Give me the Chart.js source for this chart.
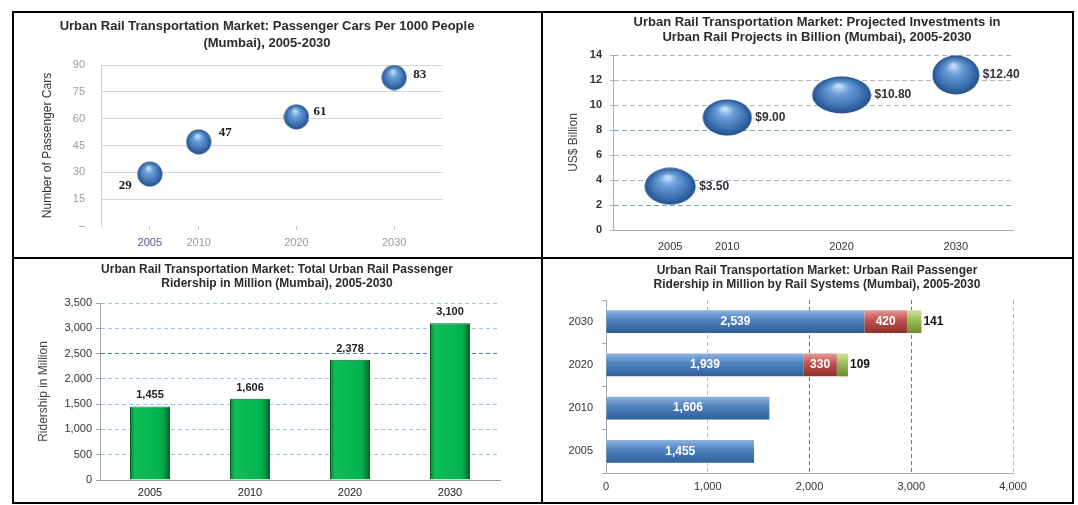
<!DOCTYPE html>
<html>
<head>
<meta charset="utf-8">
<script src="https://cdn.jsdelivr.net/npm/chart.js@4/dist/chart.umd.min.js"></script>
<style>
  body { margin: 0; background: #fff; }
  #page { position: relative; width: 1078px; height: 505px; overflow: hidden; background: #fff; }
  canvas { position: absolute; }
  .rule { position: absolute; background: #000; z-index: 2; }
</style>
</head>
<body>
<div id="page">
  <canvas id="cars" width="529" height="246" style="left:13px;top:12px"></canvas>
  <canvas id="invest" width="531" height="246" style="left:542px;top:12px"></canvas>
  <canvas id="riders" width="529" height="245" style="left:13px;top:258px"></canvas>
  <canvas id="systems" width="531" height="245" style="left:542px;top:258px"></canvas>

  <div class="rule" style="left:12px;top:11px;width:1062px;height:2px"></div>
  <div class="rule" style="left:12px;top:502px;width:1062px;height:2px"></div>
  <div class="rule" style="left:12px;top:11px;width:2px;height:493px"></div>
  <div class="rule" style="left:1072px;top:11px;width:2px;height:493px"></div>
  <div class="rule" style="left:541px;top:11px;width:2px;height:493px"></div>
  <div class="rule" style="left:12px;top:257px;width:1062px;height:2px"></div>
</div>
<script>
// data
const years = [2005, 2010, 2020, 2030];
const carsPer1000 = [29, 47, 61, 83];
const investBillion = [3.5, 9.0, 10.8, 12.4];
const ridership = [1455, 1606, 2378, 3100];
const systemYears = ['2030', '2020', '2010', '2005'];
const systemBlue = [2539, 1939, 1606, 1455];
const systemRed = [420, 330, null, null];
const systemGreen = [141, 109, null, null];

const FONT = "'Liberation Sans', Arial, sans-serif";
Chart.defaults.font.family = FONT;
Chart.defaults.animation = false;
Chart.defaults.plugins.legend.display = false;
Chart.defaults.plugins.tooltip.enabled = false;

const fmt = v => Number(v).toLocaleString('en-US');

// two-line bold heading for each panel
Chart.register({
  id: 'panelTitle',
  afterDraw(chart, args, opts) {
    if (!opts.lines) return;
    const ctx = chart.ctx;
    ctx.save();
    ctx.font = 'bold ' + opts.size + 'px ' + FONT;
    ctx.fillStyle = '#2b2b2b';
    ctx.textAlign = 'center';
    ctx.textBaseline = 'middle';
    opts.lines.forEach((t, i) => ctx.fillText(t, opts.x, opts.y + i * opts.gap));
    ctx.restore();
  }
});

// shaded blue ball used as the bubble marker
function sphere(w, h) {
  const c = document.createElement('canvas');
  c.width = w; c.height = h;
  const g = c.getContext('2d');
  g.translate(w / 2, h / 2);
  g.scale(w / 2 - 0.5, h / 2 - 0.5);
  const grad = g.createRadialGradient(-0.1, -0.5, 0.05, 0, 0, 1);
  grad.addColorStop(0, '#c8e0f8');
  grad.addColorStop(0.3, '#6da0da');
  grad.addColorStop(0.75, '#3b70b2');
  grad.addColorStop(1, '#25508a');
  g.fillStyle = grad;
  g.beginPath();
  g.arc(0, 0, 1, 0, Math.PI * 2);
  g.fill();
  return c;
}

const common = { responsive: false, devicePixelRatio: 1, animation: false };

// --- top left: passenger cars ---
const carLabelPos = [[-18, 12, 'right'], [20, -9, 'left'], [17, -5, 'left'], [19, -3, 'left']];
new Chart(document.getElementById('cars'), {
  type: 'bubble',
  data: {
    datasets: [{
      data: years.map((x, i) => ({ x: x, y: carsPer1000[i], r: 12 })),
      pointStyle: sphere(26, 26),
      clip: false
    }]
  },
  options: {
    ...common,
    layout: { padding: { left: 0, top: 53, right: 99, bottom: 0 } },
    plugins: {
      panelTitle: {
        lines: ['Urban Rail Transportation Market: Passenger Cars Per 1000 People', '(Mumbai), 2005-2030'],
        x: 254, y: 14, gap: 17, size: 13
      }
    },
    scales: {
      x: {
        type: 'linear', min: 2000, max: 2035,
        afterBuildTicks: s => { s.ticks = years.map(v => ({ value: v })); },
        afterFit: s => { s.height = 32; },
        grid: { drawOnChartArea: false, tickLength: 4, color: '#c8c8c8' },
        border: { display: false },
        ticks: {
          padding: 6,
          callback: v => String(v),
          color: c => c.index === 0 ? '#55559a' : '#9a9a9a',
          font: { size: 11 }
        }
      },
      y: {
        min: 0, max: 90,
        afterFit: s => { s.width = 88; },
        ticks: { stepSize: 15, padding: 16, color: '#9a9a9a', font: { size: 11 }, callback: v => v === 0 ? '–' : v },
        grid: { drawTicks: false, color: c => c.tick && c.tick.value === 0 ? 'rgba(0,0,0,0)' : '#d6d6d6' },
        border: { color: '#cfcfcf' },
        title: { display: true, text: 'Number of Passenger Cars', color: '#333', font: { size: 12 }, padding: { top: 27 } }
      }
    }
  },
  plugins: [{
    id: 'carLabels',
    afterDatasetsDraw(chart) {
      const ctx = chart.ctx;
      ctx.save();
      ctx.font = "bold 13px 'Liberation Serif', 'DejaVu Serif', serif";
      ctx.fillStyle = '#1a1a1a';
      ctx.textBaseline = 'middle';
      chart.getDatasetMeta(0).data.forEach((pt, i) => {
        const p = carLabelPos[i];
        ctx.textAlign = p[2];
        ctx.fillText(String(carsPer1000[i]), pt.x + p[0], pt.y + p[1]);
      });
      ctx.restore();
    }
  }]
});

// --- top right: investments ---
const investBalls = [[52, 38], [50, 37], [60, 38], [48, 40]].map(s => sphere(s[0], s[1]));
const investGrid = { 2: '#6f9fd6', 4: '#9fb3c8', 6: '#b4b4b4', 8: '#6f9fd6', 10: '#b4b4b4', 12: '#b4b4b4', 14: '#9fb3c8' };
new Chart(document.getElementById('invest'), {
  type: 'bubble',
  data: {
    datasets: [{
      data: years.map((x, i) => ({ x: x, y: investBillion[i], r: 20 })),
      pointStyle: c => investBalls[c.dataIndex] || investBalls[0],
      clip: false
    }]
  },
  options: {
    ...common,
    layout: { padding: { left: 0, top: 43, right: 60, bottom: 0 } },
    plugins: {
      panelTitle: {
        lines: ['Urban Rail Transportation Market: Projected Investments in', 'Urban Rail Projects in Billion (Mumbai), 2005-2030'],
        x: 275, y: 10, gap: 15, size: 13
      }
    },
    scales: {
      x: {
        type: 'linear', min: 2000, max: 2035,
        afterBuildTicks: s => { s.ticks = years.map(v => ({ value: v })); },
        afterFit: s => { s.height = 28; },
        grid: { display: false, drawTicks: false },
        border: { display: true, color: '#b0b0b0' },
        ticks: { padding: 10, callback: v => String(v), color: '#333', font: { size: 11 } }
      },
      y: {
        min: 0, max: 14,
        afterFit: s => { s.width = 71; },
        ticks: { stepSize: 2, padding: 8, color: '#333', font: { size: 11, weight: 'bold' } },
        grid: {
          color: c => c.tick && investGrid[c.tick.value] ? investGrid[c.tick.value] : 'rgba(0,0,0,0)',
          tickLength: 3, tickColor: '#b0b0b0'
        },
        border: { color: '#b0b0b0', dash: [5, 3] },
        title: { display: true, text: 'US$ Billion', color: '#444', font: { size: 12 }, padding: { top: 24 } }
      }
    }
  },
  plugins: [{
    id: 'investLabels',
    afterDatasetsDraw(chart) {
      const ctx = chart.ctx;
      ctx.save();
      ctx.font = 'bold 12px ' + FONT;
      ctx.fillStyle = '#333';
      ctx.textAlign = 'left';
      ctx.textBaseline = 'middle';
      chart.getDatasetMeta(0).data.forEach((pt, i) => {
        const w = investBalls[i].width;
        ctx.fillText('$' + investBillion[i].toFixed(2), pt.x + w / 2 + 3, pt.y);
      });
      ctx.restore();
    }
  }]
});

// --- bottom left: total ridership ---
function greenBar(c) {
  const xs = c.chart.scales.x;
  if (!xs || c.dataIndex === undefined) return '#00b050';
  const cx = xs.getPixelForValue(c.dataIndex);
  const half = xs.width / ridership.length * 0.2;
  if (!isFinite(cx) || !isFinite(half) || half <= 0) return '#00b050';
  const g = c.chart.ctx.createLinearGradient(cx - half, 0, cx + half, 0);
  g.addColorStop(0, '#0b7a34');
  g.addColorStop(0.12, '#0fbf55');
  g.addColorStop(0.8, '#00b24f');
  g.addColorStop(1, '#06622a');
  return g;
}
new Chart(document.getElementById('riders'), {
  type: 'bar',
  data: {
    labels: years.map(String),
    datasets: [{
      data: ridership,
      backgroundColor: greenBar,
      borderColor: '#0a5e28',
      borderWidth: 1,
      barPercentage: 0.4,
      categoryPercentage: 1
    }]
  },
  options: {
    ...common,
    layout: { padding: { left: 0, top: 45, right: 42, bottom: 0 } },
    plugins: {
      panelTitle: {
        lines: ['Urban Rail Transportation Market: Total Urban Rail Passenger', 'Ridership in Million (Mumbai), 2005-2030'],
        x: 264, y: 12, gap: 14, size: 12
      }
    },
    scales: {
      x: {
        afterFit: s => { s.height = 23; },
        grid: { display: false, drawTicks: false },
        border: { display: true, color: '#a0a0a0' },
        ticks: { padding: 6, color: '#222', font: { size: 11 } }
      },
      y: {
        min: 0, max: 3500,
        afterFit: s => { s.width = 87; },
        ticks: { stepSize: 500, padding: 4, color: '#333', font: { size: 11 }, callback: v => fmt(v) },
        grid: {
          color: c => !c.tick || c.tick.value === 0 ? 'rgba(0,0,0,0)' : (c.tick.value === 2500 ? '#3f7fc4' : '#9cc2e5'),
          tickLength: 4, tickColor: '#a0a0a0'
        },
        border: { color: '#a0a0a0', dash: [4, 3] },
        title: { display: true, text: 'Ridership in Million', color: '#444', font: { size: 12 }, padding: { top: 23 } }
      }
    }
  },
  plugins: [{
    id: 'riderLabels',
    afterDatasetsDraw(chart) {
      const ctx = chart.ctx;
      ctx.save();
      ctx.font = 'bold 11px ' + FONT;
      ctx.fillStyle = '#222';
      ctx.textAlign = 'center';
      ctx.textBaseline = 'middle';
      chart.getDatasetMeta(0).data.forEach((bar, i) => {
        ctx.fillText(fmt(ridership[i]), bar.x, bar.y - 11);
      });
      ctx.restore();
    }
  }]
});

// --- bottom right: ridership by rail system ---
function shadedBar(top, mid, bottom) {
  return c => {
    const ys = c.chart.scales.y;
    if (!ys || c.dataIndex === undefined) return mid;
    const cy = ys.getPixelForValue(c.dataIndex);
    const half = ys.height / systemYears.length * 0.265;
    if (!isFinite(cy) || !isFinite(half) || half <= 0) return mid;
    const g = c.chart.ctx.createLinearGradient(0, cy - half, 0, cy + half);
    g.addColorStop(0, top);
    g.addColorStop(0.45, mid);
    g.addColorStop(1, bottom);
    return g;
  };
}
const sysBar = { barPercentage: 0.53, categoryPercentage: 1, borderWidth: 0 };
new Chart(document.getElementById('systems'), {
  type: 'bar',
  data: {
    labels: systemYears,
    datasets: [
      { label: 'Rail system 1', data: systemBlue, backgroundColor: shadedBar('#8db3e2', '#4f81bd', '#2f5f99'), ...sysBar },
      { label: 'Rail system 2', data: systemRed, backgroundColor: shadedBar('#e89a97', '#c0504d', '#8e2f2c'), ...sysBar },
      { label: 'Rail system 3', data: systemGreen, backgroundColor: shadedBar('#cfe29c', '#9bbb59', '#6a8a2c'), ...sysBar }
    ]
  },
  options: {
    ...common,
    indexAxis: 'y',
    layout: { padding: { left: 0, top: 42, right: 60, bottom: 0 } },
    plugins: {
      panelTitle: {
        lines: ['Urban Rail Transportation Market: Urban Rail Passenger', 'Ridership in Million by Rail Systems (Mumbai), 2005-2030'],
        x: 275, y: 13, gap: 14, size: 12
      }
    },
    scales: {
      x: {
        stacked: true, min: 0, max: 4000,
        afterFit: s => { s.height = 30; },
        ticks: { stepSize: 1000, padding: 7, color: '#333', font: { size: 11 }, callback: v => fmt(v) },
        grid: {
          drawTicks: false,
          color: c => !c.tick || c.tick.value === 0 ? 'rgba(0,0,0,0)' : (c.tick.value === 2000 || c.tick.value === 3000 ? '#3f7fc4' : '#9cc2e5')
        },
        border: { display: true, color: '#a8a8a8', dash: [4, 3] }
      },
      y: {
        stacked: true,
        afterFit: s => { s.width = 64; },
        ticks: { padding: 9, color: '#333', font: { size: 11 } },
        grid: { offset: true, drawOnChartArea: false, tickLength: 4, color: '#a8a8a8' },
        border: { color: '#a8a8a8' }
      }
    }
  },
  plugins: [{
    id: 'systemLabels',
    afterDatasetsDraw(chart) {
      const ctx = chart.ctx;
      const series = [systemBlue, systemRed, systemGreen];
      ctx.save();
      ctx.font = 'bold 12px ' + FONT;
      ctx.textBaseline = 'middle';
      series.forEach((vals, d) => {
        chart.getDatasetMeta(d).data.forEach((bar, i) => {
          if (vals[i] == null) return;
          if (d < 2) {
            ctx.fillStyle = '#fff';
            ctx.textAlign = 'center';
            ctx.fillText(fmt(vals[i]), (bar.x + bar.base) / 2, bar.y);
          } else {
            ctx.fillStyle = '#111';
            ctx.textAlign = 'left';
            ctx.fillText(fmt(vals[i]), bar.x + 2, bar.y);
          }
        });
      });
      ctx.restore();
    }
  }]
});
</script>
</body>
</html>
